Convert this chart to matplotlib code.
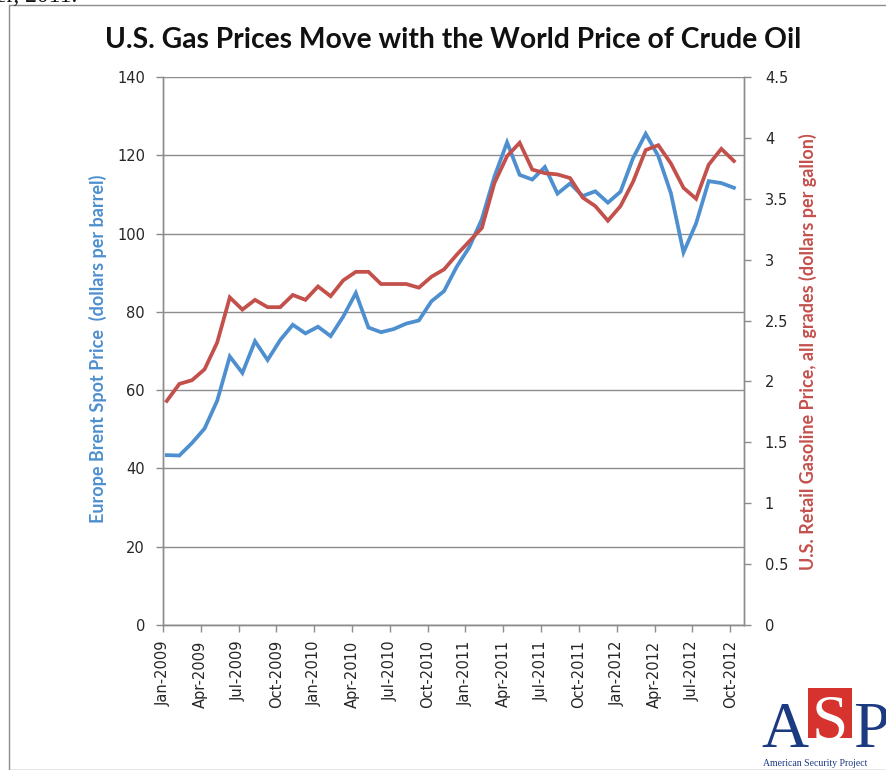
import matplotlib
matplotlib.use("Agg")
import matplotlib.pyplot as plt
from matplotlib.patches import Rectangle

months = ["Jan", "Feb", "Mar", "Apr", "May", "Jun", "Jul", "Aug", "Sep", "Oct", "Nov", "Dec"]
dates = [f"{m}-{y}" for y in range(2009, 2013) for m in months][:46]

brent = [43.4, 43.3, 46.5, 50.2, 57.3, 68.6, 64.4, 72.5, 67.7, 72.8, 76.7, 74.5,
         76.2, 73.8, 78.8, 84.8, 76.0, 74.8, 75.6, 77.0, 77.8, 82.7, 85.3, 91.5,
         96.5, 103.7, 114.6, 123.3, 115.0, 113.8, 117.0, 110.2, 112.8, 109.6, 110.8, 107.9,
         110.7, 119.3, 125.5, 119.8, 110.3, 95.2, 102.6, 113.4, 112.9, 111.7]

gasoline = [1.84, 1.98, 2.01, 2.10, 2.32, 2.69, 2.59, 2.67, 2.61, 2.61, 2.71, 2.67,
            2.78, 2.70, 2.83, 2.90, 2.90, 2.80, 2.80, 2.80, 2.77, 2.86, 2.92, 3.04,
            3.15, 3.26, 3.63, 3.85, 3.96, 3.74, 3.71, 3.70, 3.67, 3.51, 3.44, 3.32,
            3.44, 3.64, 3.90, 3.94, 3.79, 3.59, 3.50, 3.78, 3.91, 3.81]

tick_labels = dates[::3]
left_ticks = [0, 20, 40, 60, 80, 100, 120, 140]
right_ticks = [0, 0.5, 1, 1.5, 2, 2.5, 3, 3.5, 4, 4.5]
right_tick_labels = ["0", "0.5", "1", "1.5", "2", "2.5", "3", "3.5", "4", "4.5"]

BLUE = "#4D8FCF"
RED = "#C4504C"
GRID = "#8C8C8C"
TXT = "#262626"

W, H = 886, 770
fig = plt.figure(figsize=(W / 100, H / 100), dpi=100)

def fx(px):
    return px / W

def fy(py):
    return 1 - py / H

# outer chart frame
fig.patches.append(Rectangle((fx(9), 0), 1 - fx(9) + 0.01, fy(4.5), transform=fig.transFigure,
                             fill=False, edgecolor="#8C8C8C", lw=1.0, clip_on=False))
# clipped page text above chart
fig.text(fx(-4), fy(2.5), "er, 2011.", family="Liberation Serif", fontsize=17,
         color="#111111", va="baseline", ha="left")

ax = fig.add_axes([fx(163), fy(625), fx(744) - fx(163), fy(77) - fy(625)])
ax2 = ax.twinx()

x = [i + 0.3 for i in range(len(brent))]
ax.plot(x, brent, color=BLUE, lw=2.7, solid_joinstyle="miter", zorder=3)
ax2.plot(x, gasoline, color=RED, lw=2.7, solid_joinstyle="miter", zorder=3)

ax.set_xlim(0, 46.1)
ax.set_ylim(0, 140)
ax2.set_ylim(0, 4.5)
ax.set_yticks(left_ticks)
ax.set_yticklabels([str(v) for v in left_ticks])
ax2.set_yticks(right_ticks)
ax2.set_yticklabels(right_tick_labels)
ax.set_xticks(range(0, 46, 3))
ax.set_xticklabels(tick_labels, rotation=90)

ax.grid(axis="y", color=GRID, lw=1.0)
ax.set_axisbelow(True)
for a in (ax, ax2):
    a.spines["top"].set_visible(False)
    for s in ("left", "right", "bottom"):
        a.spines[s].set_color(GRID)
        a.spines[s].set_linewidth(1.0)
ax.tick_params(axis="both", colors=GRID, length=5, width=1, labelcolor=TXT, labelsize=10.5)
ax2.tick_params(axis="y", colors=GRID, length=5, width=1, labelcolor=TXT, labelsize=10.5, pad=10)
ax.tick_params(axis="y", pad=8)
ax.tick_params(axis="x", pad=6)
for lab in ax.get_xticklabels() + ax.get_yticklabels() + ax2.get_yticklabels():
    lab.set_family("DejaVu Sans")

fig.text(fx(453), fy(40), "U.S. Gas Prices Move with the World Price of Crude Oil",
         family="Lato", fontweight="bold", fontsize=20.3, color="#111111",
         ha="center", va="center")

fig.text(fx(98), fy(349), "Europe Brent Spot Price  (dollars per barrel)", rotation=90,
         family="Lato", fontweight="bold", fontsize=13, color=BLUE, ha="center", va="center")
fig.text(fx(808), fy(352), "U.S. Retail Gasoline Price, all grades (dollars per gallon)", rotation=90,
         family="Lato", fontweight="bold", fontsize=13, color=RED, ha="center", va="center")

# ASP logo
NAVY = "#1B3A82"
fig.patches.append(Rectangle((fx(808), fy(738)), fx(852) - fx(808), fy(688) - fy(738),
                             transform=fig.transFigure, facecolor="#D6322E", edgecolor="none"))
fig.text(fx(785), fy(747), "A", family="Liberation Serif", fontsize=47, color=NAVY,
         ha="center", va="baseline")
fig.text(fx(830), fy(740), "S", family="Liberation Serif", fontsize=47, color="white",
         ha="center", va="baseline")
fig.text(fx(871), fy(747), "P", family="Liberation Serif", fontsize=47, color=NAVY,
         ha="center", va="baseline")
fig.text(fx(763), fy(764), "American Security Project", family="Liberation Serif", fontsize=7,
         color=NAVY, ha="left", va="center")

fig.savefig("out.png", dpi=100, facecolor="white")
